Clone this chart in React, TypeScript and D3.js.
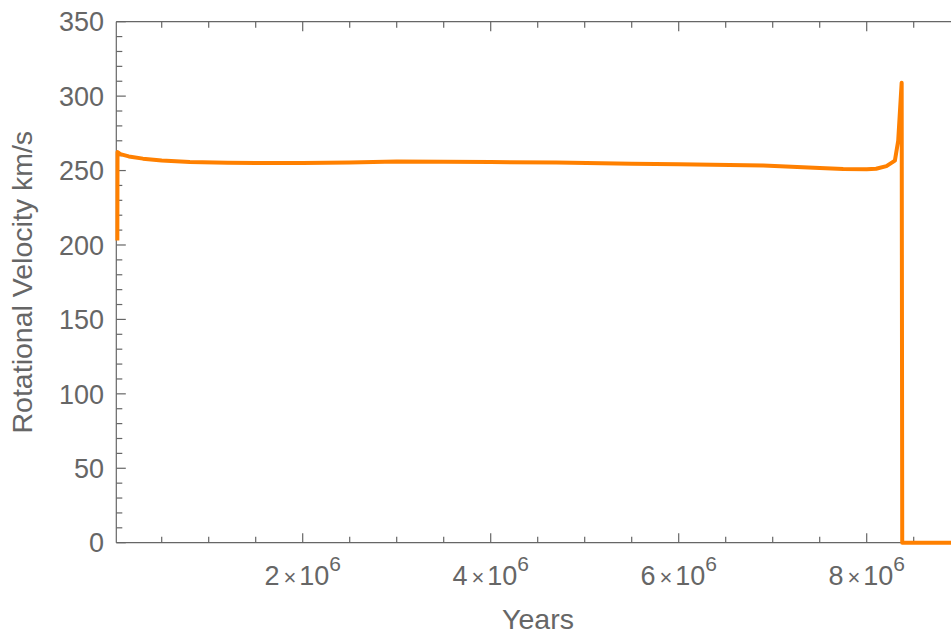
import React from "react";
import * as d3 from "d3";

const years = [28000, 30000, 60000, 150000, 300000, 500000, 800000, 1200000, 2000000, 2500000, 3000000, 3500000, 4000000, 4700000, 5500000, 6000000, 6900000, 7500000, 7750000, 8000000, 8100000, 8210000, 8300000, 8335000, 8372000, 8378000, 8900000];
const velocity = [203, 262.5, 261, 259.5, 258, 256.8, 255.8, 255.2, 255.0, 255.4, 256.1, 256.0, 255.7, 255.4, 254.6, 254.2, 253.4, 251.8, 251.1, 250.9, 251.2, 253.0, 256.7, 270, 309, 0, 0];

const yMajorTicks = [0, 50, 100, 150, 200, 250, 300, 350];
const xMajorTicks = [2e6, 4e6, 6e6, 8e6];
const xTickMantissa = ["2", "4", "6", "8"];

const W = 951;
const H = 636;
const FONT = "'Liberation Sans', Arial, Helvetica, sans-serif";
const GRAY = "#666666";

export default function App() {
  const x = d3.scaleLinear().domain([17000, 8.9e6]).range([116.3, 951.3]);
  const y = d3.scaleLinear().domain([0, 350]).range([542.7, 21.7]);

  const data = years.map((t, i) => [t, velocity[i]] as [number, number]);
  const line = d3
    .line<[number, number]>()
    .x((d) => x(d[0]))
    .y((d) => y(d[1]));

  const xMinor = d3.range(5e5, 8.9e6, 5e5).filter((v) => !xMajorTicks.includes(v));
  const yMinor = d3.range(0, 351, 10).filter((v) => v % 50 !== 0);

  const left = x.range()[0];
  const right = W;
  const top = y(350);
  const bottom = y(0);

  return (
    <svg
      width={W}
      height={H}
      style={{ position: "absolute", left: 0, top: 0, display: "block", background: "#fff" }}
      fontFamily={FONT}
    >
      {/* frame */}
      <g stroke={GRAY} strokeWidth={1.2} fill="none">
        <line x1={left} x2={right} y1={bottom} y2={bottom} />
        <line x1={left} x2={right} y1={top} y2={top} />
        <line x1={left} x2={left} y1={top} y2={bottom} />
        {xMajorTicks.map((v) => (
          <g key={"xM" + v}>
            <line x1={x(v)} x2={x(v)} y1={bottom} y2={bottom - 9.5} />
            <line x1={x(v)} x2={x(v)} y1={top} y2={top + 9.5} />
          </g>
        ))}
        {xMinor.map((v) => (
          <g key={"xm" + v}>
            <line x1={x(v)} x2={x(v)} y1={bottom} y2={bottom - 6} />
            <line x1={x(v)} x2={x(v)} y1={top} y2={top + 6} />
          </g>
        ))}
        {yMajorTicks.map((v) => (
          <line key={"yM" + v} x1={left} x2={left + 9.5} y1={y(v)} y2={y(v)} />
        ))}
        {yMinor.map((v) => (
          <line key={"ym" + v} x1={left} x2={left + 6} y1={y(v)} y2={y(v)} />
        ))}
      </g>

      {/* y tick labels */}
      <g fill={GRAY} fontSize={27} textAnchor="end">
        {yMajorTicks.map((v) => (
          <text key={"yl" + v} x={104} y={y(v)} dy="0.36em">
            {v}
          </text>
        ))}
      </g>

      {/* x tick labels */}
      <g fill={GRAY} fontSize={27} textAnchor="middle">
        {xMajorTicks.map((v, i) => (
          <text key={"xl" + v} x={x(v)} y={585}>
            <tspan>{xTickMantissa[i]}</tspan>
            <tspan fontSize={22} dx={4}>×</tspan>
            <tspan dx={3}>10</tspan>
            <tspan fontSize={21} dy={-14}>6</tspan>
          </text>
        ))}
      </g>

      {/* axis labels */}
      <text x={538} y={629} fill={GRAY} fontSize={28.5} textAnchor="middle">
        Years
      </text>
      <text
        transform={`translate(32, ${(top + bottom) / 2}) rotate(-90)`}
        fill={GRAY}
        fontSize={28.5}
        textAnchor="middle"
      >
        Rotational Velocity km/s
      </text>

      {/* data line */}
      <path
        d={line(data) || ""}
        fill="none"
        stroke="#FF8000"
        strokeWidth={4}
        strokeLinejoin="round"
        strokeLinecap="butt"
      />
    </svg>
  );
}
